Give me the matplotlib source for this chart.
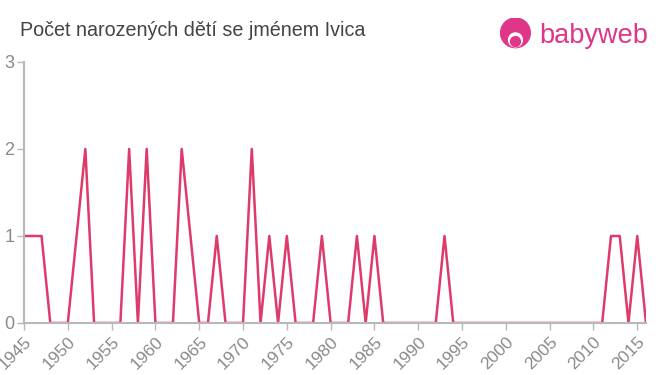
import matplotlib.pyplot as plt
from matplotlib.patches import Circle

plt.rcParams['font.family'] = ['Liberation Sans', 'DejaVu Sans']

years = list(range(1945, 2017))
counts = [1, 1, 1, 0, 0, 0, 1, 2, 0, 0,
          0, 0, 2, 0, 2, 0, 0, 0, 2, 1,
          0, 0, 1, 0, 0, 0, 2, 0, 1, 0,
          1, 0, 0, 0, 1, 0, 0, 0, 1, 0,
          1, 0, 0, 0, 0, 0, 0, 0, 1, 0,
          0, 0, 0, 0, 0, 0, 0, 0, 0, 0,
          0, 0, 0, 0, 0, 0, 0, 1, 1, 0,
          1, 0]
xticks = list(range(1945, 2016, 5))
yticks = [0, 1, 2, 3]

title = 'Počet narozených dětí se jménem Ivica'
line_color = '#de3a6b'
gray = '#8a8a8a'

fig = plt.figure(figsize=(6.6, 3.75), dpi=100)
ax = fig.add_axes([0.0364, 0.1387, 0.9424, 0.696])
ax.plot(years, counts, color=line_color, linewidth=1.8)

ax.set_xlim(1945, 2016)
ax.set_ylim(0, 3)
ax.set_xticks(xticks)
ax.set_xticklabels([str(y) for y in xticks], rotation=45, ha='right',
                   rotation_mode='anchor', fontsize=12.5, color=gray)
ax.set_yticks(yticks)
ax.set_yticklabels([str(v) for v in yticks], fontsize=13, color=gray)
ax.tick_params(axis='both', color='#b8b8b8', length=5, width=1)
ax.tick_params(axis='x', pad=3)
ax.tick_params(axis='y', pad=2)
for side in ('top', 'right'):
    ax.spines[side].set_visible(False)
for side in ('left', 'bottom'):
    ax.spines[side].set_color('#b8b8b8')
    ax.spines[side].set_linewidth(1.5)

fig.text(0.03, 0.918, title, fontsize=14.2, color='#444444', va='center')

# logo
logo_color = '#e0368a'
fig.text(0.817, 0.905, 'babyweb', fontsize=19.5, color=logo_color, va='center')
lax = fig.add_axes([0.756, 0.865, 0.05, 0.088])
lax.set_xlim(-1, 1)
lax.set_ylim(-1, 1)
lax.set_aspect('equal')
lax.axis('off')
lax.add_patch(Circle((0, 0.08), 0.9, color=logo_color))
lax.add_patch(Circle((0, -0.35), 0.42, color='white'))
lax.add_patch(Circle((0, -0.45), 0.3, color=logo_color))

fig.savefig('out.png', dpi=100)
